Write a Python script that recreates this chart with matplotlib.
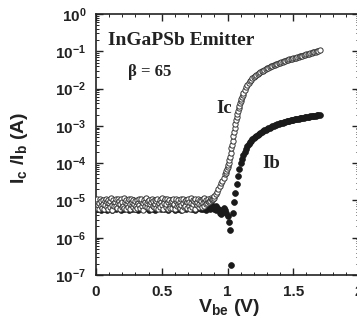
import matplotlib
matplotlib.use("Agg")
import matplotlib.pyplot as plt
import numpy as np
from matplotlib.ticker import FixedLocator, LogLocator, MultipleLocator, FuncFormatter, NullFormatter

# ── data ────────────────────────────────────────────────────────────────────
# flat noisy leakage region, units of 1e-6 A, V step 0.005 starting at 0 V
ic_noise_uA = [9.1, 6.4, 10.8, 7.7, 5.9, 8.6, 11.2, 7.0, 9.6, 6.2, 10.3, 8.1, 5.8, 9.9, 7.4, 11.0, 6.7, 8.9, 10.5, 6.0,
               8.3, 9.8, 6.6, 11.4, 7.6, 5.7, 10.1, 8.7, 6.9, 9.3, 11.1, 7.2, 6.1, 10.6, 8.4, 9.5, 5.9, 7.9, 10.9, 6.5,
               9.0, 7.3, 11.3, 6.3, 8.8, 10.0, 5.8, 7.8, 9.7, 6.8, 10.7, 8.2, 6.0, 11.0, 7.5, 9.2, 6.6, 10.4, 8.0, 5.9,
               9.9, 7.1, 10.2, 6.4, 8.5, 11.2, 7.7, 6.2, 9.4, 10.8, 6.9, 8.6, 5.7, 10.0, 7.3, 9.1, 11.4, 6.7, 8.3, 9.6,
               6.1, 10.5, 7.9, 8.9, 5.8, 11.1, 7.0, 9.8, 6.5, 10.3, 8.1, 6.3, 9.4, 10.9, 7.6, 5.9, 8.7, 10.1, 6.8, 9.2,
               11.3, 7.4, 6.0, 9.7, 8.4, 10.6, 6.6, 7.8, 11.0, 5.8, 9.0, 10.2, 7.2, 6.4, 8.8, 9.9, 6.1, 10.7, 7.5, 8.2,
               5.9, 9.5, 11.2, 6.9, 8.0, 10.4, 7.1, 6.3, 9.3, 10.9, 7.7, 5.7, 8.6, 11.1, 6.7, 9.8, 7.3, 10.0, 6.2, 8.9,
               10.6, 7.0, 9.1, 5.8, 11.4, 8.3, 6.5, 10.1, 7.9, 9.6, 6.0, 10.8, 8.5, 7.4, 9.2, 11.0, 6.8, 8.1, 10.3, 7.6,
               9.4, 6.6, 10.9, 8.7, 7.2, 11.3, 9.0, 7.8, 10.5, 8.4, 9.9, 11.2, 8.9, 10.2, 9.6, 11.5, 10.0, 11.1, 10.6, 11.8]
ib_noise_uA = [7.6, 5.8, 9.3, 6.5, 10.0, 6.2, 8.1, 8.8, 5.6, 9.5, 7.0, 8.3, 6.0, 10.2, 7.3, 8.6, 5.7, 7.8, 9.7, 6.6,
               9.1, 6.3, 7.4, 9.9, 6.8, 5.5, 8.9, 8.0, 6.4, 9.6, 5.9, 8.4, 7.2, 10.3, 6.1, 7.7, 9.2, 6.7, 5.6, 9.4,
               8.2, 6.9, 10.1, 5.8, 8.7, 7.5, 6.3, 9.8, 7.1, 9.0, 5.7, 7.9, 9.5, 6.4, 8.5, 6.0, 10.0, 7.4, 6.6, 9.3,
               5.9, 8.3, 9.7, 7.0, 5.5, 8.8, 7.6, 10.2, 6.2, 7.3, 9.1, 5.8, 9.4, 8.0, 6.5, 8.6, 6.1, 9.9, 6.8, 7.8,
               9.2, 5.6, 7.5, 9.6, 6.7, 8.4, 6.0, 10.1, 7.2, 8.1, 5.7, 8.9, 9.8, 6.4, 7.7, 6.3, 9.3, 6.9, 9.5, 5.8,
               8.2, 9.0, 6.6, 5.9, 10.0, 7.4, 8.7, 6.2, 7.1, 9.7, 5.5, 7.9, 9.2, 6.8, 10.3, 6.1, 7.6, 8.5, 6.5, 9.4,
               5.7, 8.8, 7.8, 7.0, 9.9, 6.0, 8.4, 7.3, 9.6, 5.6, 8.1, 9.1, 6.7, 6.3, 10.1, 7.5, 8.6, 5.8, 7.2, 9.8,
               7.7, 6.2, 9.3, 6.4, 9.5, 8.3, 5.9, 8.9, 6.9, 10.2, 5.6, 8.0, 8.7, 6.6, 9.4, 6.1, 7.4, 9.0, 7.1, 5.8,
               9.7, 6.8, 8.2, 6.0, 8.5, 7.3, 9.9, 5.7, 7.6, 9.1, 6.5, 6.2, 7.9, 7.0, 5.9, 7.4, 6.7, 6.3, 7.2, 5.8,
               6.6, 6.1, 6.9, 5.7, 6.4, 6.0]

# turn-on region (V, A)
ic_on_v = [0.90, 0.91, 0.92, 0.93, 0.94, 0.95, 0.96, 0.97, 0.98, 0.985, 0.99, 0.995, 1.00,
           1.005, 1.01, 1.015, 1.02, 1.025, 1.03, 1.035, 1.04, 1.045, 1.05, 1.055, 1.06,
           1.065, 1.07, 1.075, 1.08, 1.085, 1.09, 1.095, 1.10, 1.105, 1.11, 1.115, 1.12]
ic_on = [1.3e-5, 1.5e-5, 1.7e-5, 2.0e-5, 2.4e-5, 2.9e-5, 3.4e-5, 4.1e-5, 5.0e-5, 5.6e-5,
         6.2e-5, 7.0e-5, 7.8e-5, 8.8e-5, 1.0e-4, 1.2e-4, 1.5e-4, 1.9e-4, 2.5e-4, 3.1e-4,
         4.0e-4, 5.3e-4, 7.0e-4, 8.8e-4, 1.1e-3, 1.4e-3, 1.7e-3, 2.1e-3, 2.5e-3, 3.0e-3,
         3.5e-3, 4.1e-3, 4.7e-3, 5.3e-3, 6.0e-3, 6.7e-3, 7.5e-3]
# saturating tail, V step 0.01 from 1.13 V to 1.70 V
ic_tail = [9.0e-3, 1.07e-2, 1.23e-2, 1.4e-2, 1.57e-2, 1.73e-2, 1.88e-2,
           2.03e-2, 2.17e-2, 2.31e-2, 2.45e-2, 2.6e-2, 2.75e-2, 2.9e-2, 3.05e-2, 3.2e-2, 3.35e-2,
           3.5e-2, 3.65e-2, 3.8e-2, 3.95e-2, 4.1e-2, 4.25e-2, 4.4e-2, 4.55e-2, 4.7e-2, 4.85e-2,
           5.0e-2, 5.15e-2, 5.3e-2, 5.45e-2, 5.6e-2, 5.75e-2, 5.9e-2, 6.05e-2, 6.2e-2, 6.35e-2,
           6.5e-2, 6.65e-2, 6.8e-2, 6.95e-2, 7.1e-2, 7.3e-2, 7.5e-2, 7.7e-2, 7.9e-2, 8.1e-2,
           8.3e-2, 8.5e-2, 8.7e-2, 8.9e-2, 9.1e-2, 9.3e-2, 9.5e-2, 9.75e-2, 1.0e-1, 1.03e-1, 1.07e-1]

ib_on_v = [0.93, 0.94, 0.95, 0.96, 0.97, 0.98, 0.99, 1.00, 1.01, 1.02, 1.03, 1.04,
           1.05, 1.06, 1.07, 1.08, 1.09, 1.10, 1.11, 1.12, 1.13, 1.14, 1.15, 1.16,
           1.17, 1.18, 1.19]
ib_on = [5.8e-6, 4.6e-6, 4.4e-6, 5.5e-6, 6.4e-6, 5.4e-6, 4.5e-6, 3.8e-6, 2.6e-6, 1.6e-6,
         1.8e-7, 4.5e-6, 9e-6, 1.6e-5, 2.8e-5, 4.6e-5, 7e-5, 1.0e-4, 1.3e-4, 1.65e-4,
         2.0e-4, 2.4e-4, 2.8e-4, 3.2e-4, 3.6e-4, 4.0e-4, 4.4e-4]
# V step 0.01 from 1.20 V to 1.70 V
ib_tail = [4.8e-4, 5.15e-4, 5.5e-4, 5.85e-4, 6.2e-4, 6.55e-4, 6.9e-4, 7.25e-4, 7.6e-4, 7.95e-4,
           8.3e-4, 8.65e-4, 9.0e-4, 9.35e-4, 9.7e-4, 1.005e-3, 1.04e-3, 1.07e-3, 1.1e-3, 1.13e-3,
           1.16e-3, 1.19e-3, 1.22e-3, 1.25e-3, 1.28e-3, 1.31e-3, 1.34e-3, 1.37e-3, 1.4e-3, 1.43e-3,
           1.46e-3, 1.49e-3, 1.52e-3, 1.545e-3, 1.57e-3, 1.595e-3, 1.62e-3, 1.645e-3, 1.67e-3, 1.695e-3,
           1.72e-3, 1.745e-3, 1.77e-3, 1.795e-3, 1.82e-3, 1.845e-3, 1.87e-3, 1.895e-3, 1.92e-3, 1.945e-3,
           1.97e-3]

y_decades = [-7, -6, -5, -4, -3, -2, -1, 0]
x_ticks = [0, 0.5, 1, 1.5, 2]

# ── assemble series ─────────────────────────────────────────────────────────
v_ic = np.concatenate([np.arange(len(ic_noise_uA)) * 0.005, ic_on_v,
                       1.13 + np.arange(len(ic_tail)) * 0.01])
ic = np.concatenate([np.array(ic_noise_uA) * 1e-6, ic_on, ic_tail])
v_ib = np.concatenate([np.arange(len(ib_noise_uA)) * 0.005, ib_on_v,
                       1.20 + np.arange(len(ib_tail)) * 0.01])
ib = np.concatenate([np.array(ib_noise_uA) * 1e-6, ib_on, ib_tail])

plt.rcParams["font.family"] = "Liberation Sans"
plt.rcParams["font.weight"] = "bold"
plt.rcParams["mathtext.fontset"] = "custom"
plt.rcParams["mathtext.rm"] = "Liberation Sans:bold"
plt.rcParams["mathtext.bf"] = "Liberation Sans:bold"
plt.rcParams["mathtext.it"] = "Liberation Sans:bold"
plt.rcParams["mathtext.default"] = "bf"

W, H = 357, 321
fig = plt.figure(figsize=(W / 100, H / 100), dpi=100)
ax = fig.add_axes([96 / W, (H - 275) / H, (359 - 96) / W, (275 - 14) / H])

ax.plot(v_ib, ib, "o", ms=4.2, mfc="#1a1a1a", mec="#1a1a1a", mew=0.5, zorder=2)
ax.plot(v_ic, ic, "o", ms=3.8, mfc="white", mec="#333333", mew=0.7, zorder=3)

ax.set_yscale("log")
ax.set_ylim(1e-7, 1)
ax.set_xlim(0, 2)
ax.yaxis.set_major_locator(FixedLocator([10.0 ** d for d in y_decades]))
ax.yaxis.set_major_formatter(FuncFormatter(lambda y, p: r"$10^{%d}$" % round(np.log10(y))))
ax.yaxis.set_minor_locator(LogLocator(base=10, subs=np.arange(2, 10), numticks=20))
ax.yaxis.set_minor_formatter(NullFormatter())
ax.xaxis.set_major_locator(FixedLocator(x_ticks))
ax.xaxis.set_major_formatter(FuncFormatter(lambda x, p: "%g" % x))
ax.xaxis.set_minor_locator(MultipleLocator(0.1))

ax.tick_params(which="both", direction="in", top=True, right=True, colors="#222222")
ax.tick_params(which="major", length=5, width=1.0, labelsize=11, pad=7)
ax.tick_params(which="minor", length=2.5, width=0.7)
for s in ax.spines.values():
    s.set_linewidth(1.2)
    s.set_color("#222222")

ax.text(12 / 263, 1 - 31 / 261, "InGaPSb Emitter", transform=ax.transAxes,
        family="Liberation Serif", weight="bold", fontsize=14, color="#222222")
ax.text(32 / 263, 1 - 62 / 261, "\u03b2 = 65", transform=ax.transAxes,
        family="Liberation Serif", weight="bold", fontsize=12, color="#222222")
ax.text(120 / 263, 1 - 99 / 261, "Ic", transform=ax.transAxes,
        family="Liberation Serif", weight="bold", fontsize=13.5, color="#222222")
ax.text(166 / 263, 1 - 154 / 261, "Ib", transform=ax.transAxes,
        family="Liberation Serif", weight="bold", fontsize=13.5, color="#222222")

fig.text(20 / W, 1 - 148 / H, r"$I_c$ /$I_b$ (A)", rotation=90, ha="center", va="center",
         fontsize=14, color="#222222")
fig.text(229 / W, 1 - 308 / H, r"$V_{be}$ (V)", ha="center", va="center",
         fontsize=14, color="#222222")

fig.savefig("out.png", dpi=100)
plt.close(fig)
